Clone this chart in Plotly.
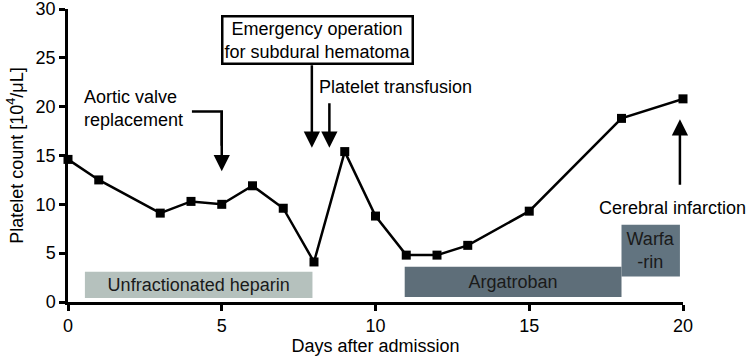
import plotly.graph_objects as go

# Platelet count data
days = [0, 1, 3, 4, 5, 6, 7, 8, 9, 10, 11, 12, 13, 15, 18, 20]
platelets = [14.6, 12.5, 9.1, 10.3, 10.0, 11.9, 9.6, 4.1, 15.4, 8.8, 4.8, 4.8, 5.8, 9.3, 18.8, 20.8]

# Treatment periods (horizontal bars)
drug_names = ["Unfractionated heparin", "Argatroban", "Warfa<br>-rin"]
drug_start = [0.55, 10.95, 18.0]
drug_end = [7.95, 18.0, 19.9]
drug_low = [0.4, 0.5, 2.6]
drug_high = [3.1, 3.6, 7.9]
drug_colors = ["#b5c1bd", "#5e6e79", "#627480"]

x_ticks = [0, 5, 10, 15, 20]
y_ticks = [0, 5, 10, 15, 20, 25, 30]

FONT = "Liberation Sans, Arial, sans-serif"
FS = 18

fig = go.Figure()

for name, s, e, lo, hi, c in zip(drug_names, drug_start, drug_end, drug_low, drug_high, drug_colors):
    fig.add_trace(go.Bar(
        orientation="h",
        y=[(lo + hi) / 2], x=[e - s], base=[s], width=[hi - lo],
        marker=dict(color=c, line=dict(width=0)),
        text=[name], textposition="inside", insidetextanchor="middle",
        constraintext="none",
        textfont=dict(family=FONT, size=FS, color="#1a1a1a"),
        hoverinfo="skip", showlegend=False,
    ))

fig.add_trace(go.Scatter(
    x=days, y=platelets, mode="lines+markers",
    line=dict(color="black", width=2.5),
    marker=dict(symbol="square", size=9, color="black"),
    cliponaxis=False, showlegend=False, hoverinfo="skip",
))

ann_font = dict(family=FONT, size=FS, color="black")

annotations = [
    # Aortic valve replacement
    dict(x=0.47, y=19.8, xref="x", yref="y", text="Aortic valve<br>replacement",
         showarrow=False, xanchor="left", yanchor="middle", align="left", font=ann_font),
    dict(x=5.0, y=13.4, ax=5.0, ay=19.5, xref="x", yref="y", axref="x", ayref="y",
         text="", showarrow=True, arrowhead=2, arrowsize=1.3, arrowwidth=2.5, arrowcolor="black"),
    # Emergency operation box
    dict(x=8.1, y=26.85, xref="x", yref="y",
         text="Emergency operation<br>for subdural hematoma",
         showarrow=False, xanchor="center", yanchor="middle", font=ann_font,
         bordercolor="black", borderwidth=2.5, borderpad=1, bgcolor="white"),
    dict(x=7.93, y=15.8, ax=7.93, ay=24.4, xref="x", yref="y", axref="x", ayref="y",
         text="", showarrow=True, arrowhead=2, arrowsize=1.3, arrowwidth=2.5, arrowcolor="black"),
    # Platelet transfusion
    dict(x=8.1, y=22.0, xref="x", yref="y", text="Platelet transfusion",
         showarrow=False, xanchor="left", yanchor="middle", font=ann_font),
    dict(x=8.5, y=15.8, ax=8.5, ay=20.5, xref="x", yref="y", axref="x", ayref="y",
         text="", showarrow=True, arrowhead=2, arrowsize=1.3, arrowwidth=2.5, arrowcolor="black"),
    # Cerebral infarction
    dict(x=19.67, y=9.65, xref="x", yref="y", text="Cerebral infarction",
         showarrow=False, xanchor="center", yanchor="middle", font=ann_font),
    dict(x=19.9, y=18.7, ax=19.9, ay=11.85, xref="x", yref="y", axref="x", ayref="y",
         text="", showarrow=True, arrowhead=2, arrowsize=1.3, arrowwidth=2.5, arrowcolor="black"),
]

shapes = [
    dict(type="path", xref="x", yref="y", path="M 4.03,19.5 L 5.0,19.5 L 5.0,16",
         line=dict(color="black", width=2.5)),
]

fig.update_layout(
    template="none",
    width=750, height=361,
    margin=dict(l=68, r=67, t=9, b=59, autoexpand=False),
    paper_bgcolor="white", plot_bgcolor="white",
    font=dict(family=FONT, color="black"),
    barmode="overlay",
    annotations=annotations,
    shapes=shapes,
    showlegend=False,
)

fig.update_xaxes(
    range=[0, 20], tickvals=x_ticks, ticktext=[str(v) for v in x_ticks],
    showline=True, linecolor="black", linewidth=2.5, automargin=False,
    ticks="outside", ticklen=6, tickwidth=2.5, tickcolor="black",
    showgrid=False, zeroline=False, ticklabeloverflow="allow",
    tickfont=dict(family=FONT, size=FS, color="black"),
    title=dict(text="Days after admission", font=dict(family=FONT, size=FS, color="black"), standoff=4),
)
fig.update_yaxes(
    range=[0, 30], tickvals=y_ticks, ticktext=[str(v) for v in y_ticks],
    showline=True, linecolor="black", linewidth=2.5, automargin=False,
    ticks="outside", ticklen=6, tickwidth=2.5, tickcolor="black",
    showgrid=False, zeroline=False, ticklabeloverflow="allow",
    tickfont=dict(family=FONT, size=FS, color="black"),
    title=dict(text="Platelet count [10<sup>4</sup>/μL]", font=dict(family=FONT, size=FS, color="black"), standoff=8),
)

fig.write_html(
    "out.html",
    config={"displayModeBar": False},
    post_script="document.body.style.margin='0';document.body.style.overflow='hidden';",
)
